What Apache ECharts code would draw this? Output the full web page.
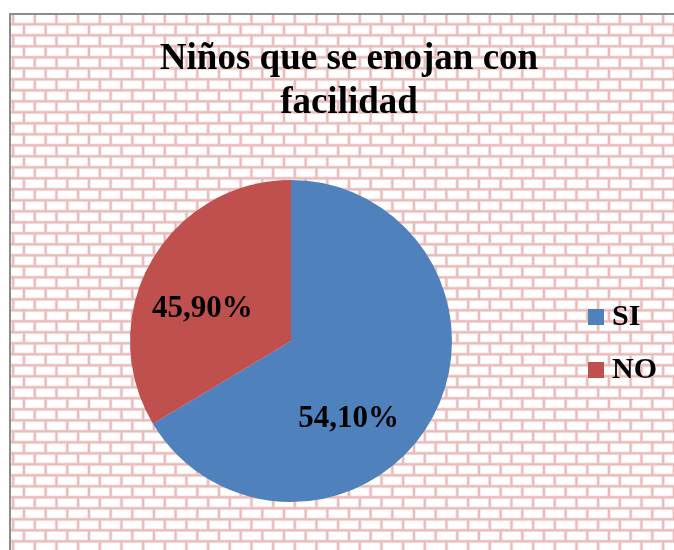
<!DOCTYPE html>
<html>
<head>
<meta charset="utf-8">
<script src="https://cdn.jsdelivr.net/npm/echarts@6/dist/echarts.min.js"></script>
<style>
  html, body { margin: 0; padding: 0; background: #fff; }
  #chart { width: 674px; height: 550px; }
</style>
</head>
<body>
<div id="chart"></div>
<script>
// values as drawn (slice angles) and the labels printed on the slices
const categories = ['SI', 'NO'];
const sliceValues = [66.4, 33.6];
const sliceLabels = ['54,10%', '45,90%'];
const sliceColors = ['#4f81bd', '#c0504d'];

// brick fill tile (3 bricks wide, 2 rows high)
function brickTile() {
  const W = 65, H = 22, bw = W / 3, bh = 11;
  const c = document.createElement('canvas');
  c.width = W; c.height = H;
  const ctx = c.getContext('2d');
  ctx.fillStyle = '#e9bcbc';
  ctx.fillRect(0, 0, W, H);
  const rows = [{ y: 2.3, x: 2.3 }, { y: 13.3, x: 13.13 }];
  rows.forEach(r => {
    for (let k = -1; k <= 3; k++) {
      for (const oy of [-H, 0, H]) {
        const x = r.x + k * bw, y = r.y + oy;
        ctx.fillStyle = '#f7e2e2';
        ctx.fillRect(x + 1, y + 1, bw - 2, bh - 2);
        ctx.fillStyle = '#ffffff';
        ctx.fillRect(x + 1.8, y + 1.8, bw - 3.6, bh - 3.6);
      }
    }
  });
  return c;
}

const chart = echarts.init(document.getElementById('chart'));

chart.setOption({
  animation: false,
  backgroundColor: '#ffffff',
  graphic: [
    {
      type: 'rect',
      z: -10,
      shape: { x: 10, y: 14, width: 700, height: 600 },
      style: {
        fill: { image: brickTile(), repeat: 'repeat' },
        stroke: '#8c8c8c',
        lineWidth: 2
      }
    }
  ],
  title: {
    text: 'Niños que se enojan con\nfacilidad',
    left: 344,
    top: 32,
    textAlign: 'center',
    textStyle: {
      fontFamily: 'Liberation Serif',
      fontWeight: 'bold',
      fontSize: 37,
      lineHeight: 44,
      color: '#000'
    }
  },
  legend: {
    orient: 'vertical',
    left: 588,
    top: 302,
    padding: 0,
    icon: 'rect',
    itemWidth: 16,
    itemHeight: 16,
    itemGap: 23,
    data: categories,
    textStyle: {
      fontFamily: 'Liberation Serif',
      fontWeight: 'bold',
      fontSize: 30,
      color: '#000',
      padding: [0, 0, 0, 3]
    }
  },
  series: [
    {
      type: 'pie',
      center: [291, 341],
      radius: 161,
      startAngle: 90,
      clockwise: true,
      color: sliceColors,
      label: {
        show: true,
        position: 'inside',
        fontFamily: 'Liberation Serif',
        fontWeight: 'bold',
        fontSize: 31,
        color: '#000',
        formatter: p => sliceLabels[p.dataIndex]
      },
      labelLine: { show: false },
      labelLayout: params => params.dataIndex === 0 ? { dx: -15, dy: 37 } : { dx: -16, dy: 9 },
      emphasis: { disabled: true },
      data: categories.map((name, i) => ({ name, value: sliceValues[i] }))
    }
  ]
});
</script>
</body>
</html>
